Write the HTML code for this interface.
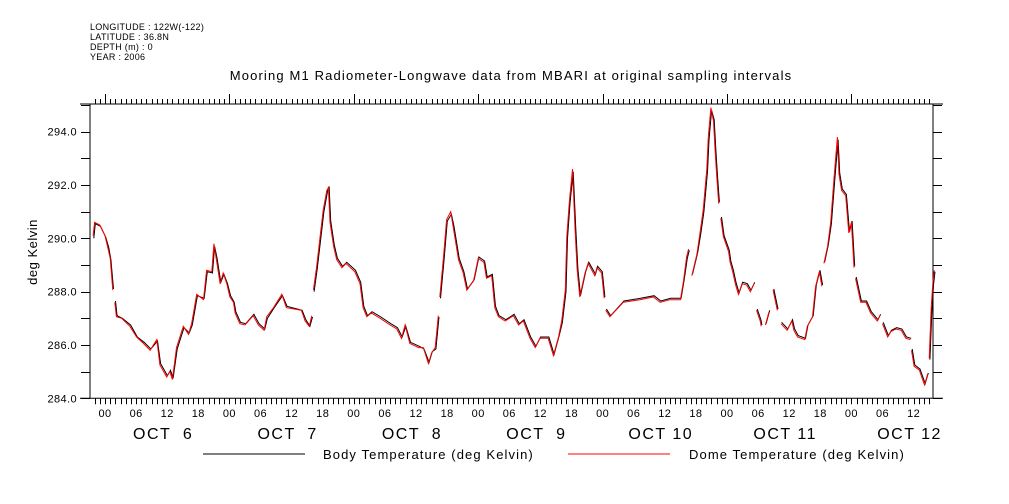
<!DOCTYPE html>
<html><head><meta charset="utf-8"><style>
body{margin:0;background:#fff;}
svg{display:block;font-family:"Liberation Sans",sans-serif;}
</style></head><body>
<svg id="c" width="1009" height="504">
<g font-size="9" fill="#000" letter-spacing="0.3">
<text x="90" y="30">LONGITUDE : 122W(-122)</text>
<text x="90" y="40">LATITUDE : 36.8N</text>
<text x="90" y="50">DEPTH (m) : 0</text>
<text x="90" y="60">YEAR : 2006</text>
</g>
<text x="511" y="80" font-size="13" text-anchor="middle" letter-spacing="1.15">Mooring M1 Radiometer-Longwave data from MBARI at original sampling intervals</text>
<text transform="translate(37,252) rotate(-90)" font-size="13" text-anchor="middle" letter-spacing="0.5">deg Kelvin</text>
<g id="axes"></g>
<g id="series"></g>
<g font-size="13">
<line x1="203" y1="454" x2="305" y2="454" stroke="#000"/>
<text x="323" y="459" letter-spacing="1.1">Body Temperature (deg Kelvin)</text>
<line x1="568" y1="454" x2="670" y2="454" stroke="#f00"/>
<text x="689" y="459" letter-spacing="1.1">Dome Temperature (deg Kelvin)</text>
</g>
</svg>
<script>
const hours=[-2.3,-2,-1,0,0.6,1,1.5,null,1.9,2.2,3.2,4.8,6.1,7.4,8.7,10,10.6,11.9,12.5,13,13.8,15.1,16.1,16.7,17.7,19,19.6,20.6,21,21.5,22.2,22.8,23.5,24.1,24.8,25.1,26,27,28.6,29.6,30.7,31.2,32.5,34.1,35,37.9,38.6,39.4,39.9,null,40.2,40.8,41.5,42.1,42.8,43.1,43.4,44.1,44.7,45.7,46.5,48.2,49.2,49.8,50.5,51.4,53.1,55,56.3,57.2,57.9,58.8,60.5,61.4,62.4,63,63.7,64.3,null,64.6,65.3,65.9,66.7,67.2,68.2,69.1,69.8,71.1,72,73.1,73.6,74.6,75.2,75.9,77.2,78.8,79.8,80.7,82,83,83.9,85.5,86.5,87.5,88.1,88.8,89.1,89.6,90.2,90.7,91.1,91.6,92.6,93.2,94.5,94.9,95.8,96.3,null,96.6,97.4,100,103.2,105.8,107.1,109,111,111.6,112.2,112.6,null,113.2,114.2,114.8,115.4,116.1,116.4,116.9,117.4,117.7,118,118.4,null,118.8,119.3,120.3,120.6,121.1,121.6,122.2,122.9,123.8,124.5,125.2,null,125.7,126.4,126.6,null,127.4,128.1,null,128.9,129.7,null,130.4,131.6,132.5,132.9,133.6,135,135.5,136.5,137.1,137.8,138.3,null,138.7,139.4,140,140.7,141.3,141.6,142.1,142.9,143.5,144,144.5,null,144.8,145.8,146.8,147.7,149,149.5,null,150,151,151.6,152.6,153.6,154.5,155.4,null,155.6,156.1,157.1,158.1,158.7,null,159,159.4,159.7,160];
const dome=[290.1,290.6,290.5,290.1,289.6,289.25,288.06,null,287.6,287.06,287.0,286.7,286.3,286.06,285.8,286.2,285.25,284.8,285.0,284.7,285.9,286.7,286.4,286.8,287.9,287.7,288.8,288.75,289.8,289.2,288.3,288.7,288.3,287.8,287.6,287.2,286.8,286.75,287.1,286.75,286.55,287.06,287.4,287.9,287.4,287.3,286.9,286.7,287.1,null,288.06,288.9,290.06,291.06,291.8,291.9,290.6,289.7,289.2,288.9,289.06,288.75,288.3,287.4,287.06,287.2,287.0,286.75,286.6,286.25,286.75,286.06,285.9,285.9,285.3,285.7,285.9,287.1,null,287.8,289.3,290.7,291.0,290.4,289.2,288.7,288.06,288.4,289.25,289.1,288.5,288.6,287.4,287.06,286.9,287.1,286.75,286.9,286.25,285.9,286.25,286.25,285.6,286.3,286.9,288.06,290.06,291.4,292.6,290.3,288.8,287.8,288.7,289.06,288.6,288.9,288.7,287.75,null,287.3,287.06,287.6,287.7,287.8,287.6,287.7,287.7,288.4,289.3,289.6,null,288.6,289.4,290.2,291.06,292.6,293.8,294.9,294.4,293.3,292.4,291.3,null,290.75,290.06,289.5,289.1,288.75,288.3,287.9,288.3,288.25,288.0,288.3,null,287.3,286.9,286.7,null,286.75,287.25,null,288.06,287.3,null,286.8,286.55,286.9,286.55,286.3,286.2,286.7,287.06,288.2,288.75,288.2,null,289.06,289.7,290.6,292.4,293.8,292.4,291.8,291.6,290.2,290.6,288.9,null,288.5,287.6,287.6,287.2,286.9,287.1,null,286.8,286.3,286.5,286.6,286.55,286.25,286.2,null,285.8,285.2,285.06,284.5,284.9,null,285.5,287.4,288.3,288.8];
const body=[290.0,290.55,290.45,290.05,289.65,289.2,288.1,null,287.65,287.1,287.0,286.75,286.3,286.1,285.85,286.15,285.3,284.85,285.05,284.75,285.85,286.65,286.45,286.75,287.85,287.75,288.75,288.7,289.7,289.25,288.35,288.65,288.3,287.85,287.6,287.25,286.85,286.8,287.15,286.8,286.6,287.0,287.4,287.85,287.45,287.3,286.95,286.7,287.05,null,288.0,288.85,290.0,291.0,291.75,291.95,290.65,289.75,289.25,288.95,289.1,288.8,288.35,287.45,287.1,287.25,287.05,286.8,286.65,286.3,286.7,286.1,285.95,285.85,285.35,285.75,285.85,287.05,null,287.75,289.25,290.65,290.9,290.45,289.25,288.75,288.1,288.45,289.3,289.15,288.55,288.65,287.45,287.1,286.95,287.15,286.8,286.95,286.3,285.95,286.3,286.3,285.65,286.35,286.85,288.0,290.0,291.35,292.5,290.35,288.85,287.85,288.75,289.1,288.65,288.95,288.75,287.8,null,287.35,287.1,287.65,287.75,287.85,287.65,287.75,287.75,288.45,289.25,289.55,null,288.65,289.45,290.15,291.0,292.5,293.7,294.8,294.45,293.35,292.45,291.35,null,290.8,290.1,289.55,289.15,288.8,288.35,287.95,288.35,288.3,288.05,288.35,null,287.35,286.95,286.75,null,286.8,287.3,null,288.1,287.35,null,286.85,286.6,286.95,286.6,286.35,286.25,286.75,287.1,288.25,288.8,288.25,null,289.1,289.75,290.55,292.3,293.7,292.45,291.85,291.65,290.25,290.65,288.95,null,288.55,287.65,287.65,287.25,286.95,287.15,null,286.85,286.35,286.55,286.65,286.6,286.3,286.25,null,285.85,285.25,285.1,284.55,284.95,null,285.45,287.3,288.25,288.75];
const yTicks=[284,286,288,290,292,294];
const dayLabels=["OCT  6","OCT  7","OCT  8","OCT  9","OCT 10","OCT 11","OCT 12"];
const hourLabels=["00","06","12","18"];

const L=90,R=933,T=104,B=398.3;
const X0=105,PXH=124.4/24;
const xs=h=>X0+h*PXH;
const ys=v=>B-(v-284)*26.66;
const NS="http://www.w3.org/2000/svg";
const axes=document.getElementById('axes');
function mk(tag,attrs,parent){const e=document.createElementNS(NS,tag);for(const k in attrs)e.setAttribute(k,attrs[k]);parent.appendChild(e);return e;}
let frame=mk('path',{d:`M${L},${T}V${B}M${R},${T}V${B}M80,${T}H943M80,${B}H943`,stroke:'#000',fill:'none','stroke-width':1},axes);


let d='';
const hMin=Math.ceil((L-X0)/PXH),hMax=Math.floor((R-X0)/PXH);
for(let h=hMin;h<=hMax;h++){const x=Math.round(xs(h))+0.5;const maj=(h%24===0);d+=`M${x},${T}V${T-(maj?10:5)}M${x},${B}V${B+6}`;}
for(let v=284;v<=295;v++){const y=Math.round(ys(v))+0.5;d+=`M${L},${y}H${L-9}M${R},${y}H${R+9}`;}
let tk=mk('path',{d:d,stroke:'#000','stroke-width':1},axes);


yTicks.forEach(v=>{const t=mk('text',{x:L-13,y:ys(v)+4,'font-size':11,'text-anchor':'end','letter-spacing':0.4},axes);t.textContent=v.toFixed(1);

});
for(let h=Math.ceil(hMin/6)*6;h<=hMax;h+=6){const t=mk('text',{x:xs(h),y:417,'font-size':11,'text-anchor':'middle','letter-spacing':0.4},axes);t.textContent=hourLabels[((h/6)%4+4)%4];

}
dayLabels.forEach((s,i)=>{const t=mk('text',{x:xs(i*24+12)-4,y:439,'font-size':16,'text-anchor':'middle','letter-spacing':1.5},axes);t.setAttribute('style','white-space:pre');t.textContent=s;

});
const ser=document.getElementById('series');
function line(vals,color,name,dx){let p='',pen=false;for(let i=0;i<hours.length;i++){if(hours[i]===null||vals[i]===null){pen=false;continue;}const x=(xs(hours[i])+dx).toFixed(1),y=ys(vals[i]).toFixed(1);p+=(pen?'L':'M')+x+','+y;pen=true;}
const e=mk('path',{d:p,stroke:color,fill:'none','stroke-width':1},ser);

}
line(body,'#000','body-temperature-line',0.7);
line(dome,'#f00','dome-temperature-line',0);
</script>
</body></html>
